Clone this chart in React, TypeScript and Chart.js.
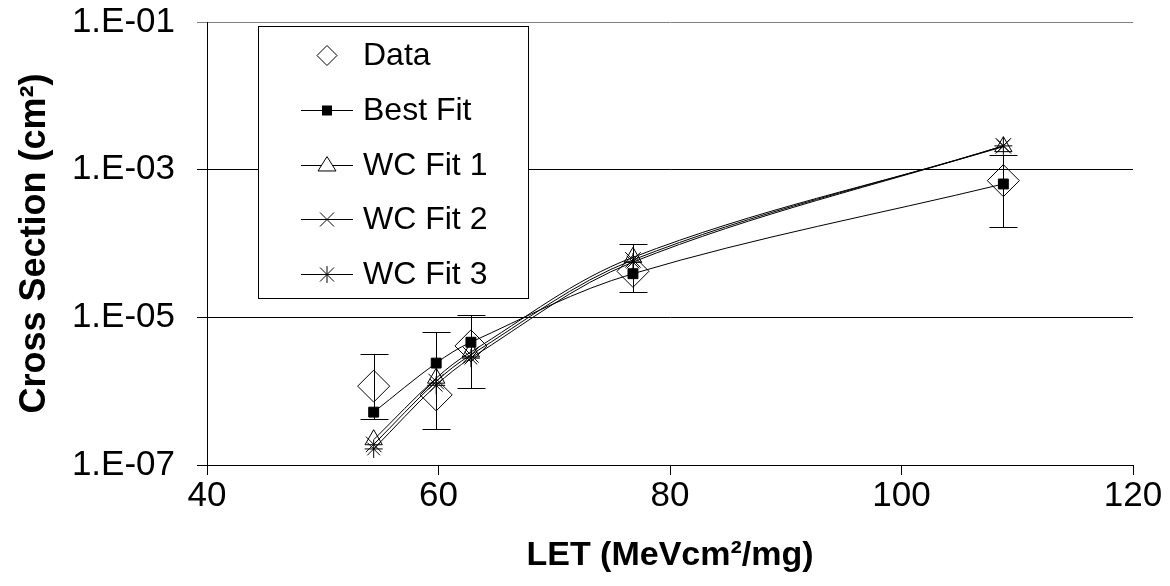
import React, { useEffect, useRef } from "react";
import { Chart, registerables } from "chart.js";

Chart.register(...registerables);

// ---- data ----
const letValues = [54.4, 59.8, 62.8, 76.8, 108.8];
const dataValues = [1.17e-6, 8.9e-7, 4.1e-6, 4.2e-5, 7.1e-4];
const dataErrLow = [4.2e-7, 3.1e-7, 1.1e-6, 2.2e-5, 1.66e-4];
const dataErrHigh = [3.2e-6, 6.4e-6, 1.07e-5, 1.0e-4, 1.6e-3];
const bestFit = [5.2e-7, 2.4e-6, 4.6e-6, 3.9e-5, 6.4e-4];
const wcFit1 = [2.2e-7, 1.5e-6, 3.4e-6, 6.5e-5, 2.05e-3];
const wcFit2 = [1.9e-7, 1.35e-6, 3.1e-6, 6.0e-5, 2.1e-3];
const wcFit3 = [1.65e-7, 1.2e-6, 2.8e-6, 5.6e-5, 2.1e-3];
const yTicks = [1e-7, 1e-5, 1e-3, 1e-1];
const xMin = 40;
const xMax = 120;
const xStep = 20;
const seriesNames = ["Data", "Best Fit", "WC Fit 1", "WC Fit 2", "WC Fit 3"];

const FONT = "'Liberation Sans', Arial, sans-serif";

const toPts = (ys: number[]) => letValues.map((x, i) => ({ x, y: ys[i] }));

const fmtExp = (v: number) => {
  const e = Math.round(Math.log10(v));
  return "1.E" + (e < 0 ? "-" : "+") + String(Math.abs(e)).padStart(2, "0");
};

type Shape = "diamond" | "square" | "triangle" | "x" | "star";

function drawShape(ctx: CanvasRenderingContext2D, shape: Shape, x: number, y: number, r: number) {
  ctx.beginPath();
  if (shape === "diamond") {
    ctx.moveTo(x - r, y);
    ctx.lineTo(x, y - r);
    ctx.lineTo(x + r, y);
    ctx.lineTo(x, y + r);
    ctx.closePath();
    ctx.fillStyle = "#fff";
    ctx.fill();
    ctx.stroke();
  } else if (shape === "square") {
    ctx.fillStyle = "#000";
    ctx.fillRect(x - r, y - r, 2 * r, 2 * r);
  } else if (shape === "triangle") {
    const h = r * 1.6;
    ctx.moveTo(x, y - h * 0.62);
    ctx.lineTo(x + r, y + h * 0.38);
    ctx.lineTo(x - r, y + h * 0.38);
    ctx.closePath();
    ctx.fillStyle = "#fff";
    ctx.fill();
    ctx.stroke();
  } else if (shape === "x") {
    ctx.moveTo(x - r, y - r);
    ctx.lineTo(x + r, y + r);
    ctx.moveTo(x - r, y + r);
    ctx.lineTo(x + r, y - r);
    ctx.stroke();
  } else if (shape === "star") {
    ctx.moveTo(x - r, y - r);
    ctx.lineTo(x + r, y + r);
    ctx.moveTo(x - r, y + r);
    ctx.lineTo(x + r, y - r);
    ctx.moveTo(x, y - r * 1.2);
    ctx.lineTo(x, y + r * 1.2);
    ctx.stroke();
  }
}

const legendPlugin = {
  id: "customLegend",
  afterDraw(chart: any) {
    const ctx: CanvasRenderingContext2D = chart.ctx;
    ctx.save();
    const bx = 258.5, by = 26.5, bw = 270, bh = 272;
    ctx.fillStyle = "#fff";
    ctx.fillRect(bx, by, bw, bh);
    ctx.strokeStyle = "#000";
    ctx.lineWidth = 1;
    ctx.strokeRect(bx, by, bw, bh);
    const shapes: Shape[] = ["diamond", "square", "triangle", "x", "star"];
    const sizes = [10, 5, 9, 7, 7];
    const rowY = [55, 110, 165, 219, 274];
    ctx.font = `32px ${FONT}`;
    ctx.textBaseline = "middle";
    ctx.textAlign = "left";
    seriesNames.forEach((name, i) => {
      const y = rowY[i] + 0.5;
      if (i > 0) {
        ctx.beginPath();
        ctx.moveTo(301, y);
        ctx.lineTo(353, y);
        ctx.strokeStyle = "#000";
        ctx.stroke();
      }
      ctx.strokeStyle = "#000";
      drawShape(ctx, shapes[i], 327, y, sizes[i]);
      ctx.fillStyle = "#000";
      ctx.fillText(name, 363, rowY[i] + 1);
    });
    ctx.restore();
  },
};

const errorBarPlugin = {
  id: "errorBars",
  afterDatasetsDraw(chart: any) {
    const ctx: CanvasRenderingContext2D = chart.ctx;
    const xs = chart.scales.x;
    const ys = chart.scales.y;
    ctx.save();
    ctx.strokeStyle = "#000";
    ctx.lineWidth = 1;
    letValues.forEach((lv, i) => {
      const px = Math.round(xs.getPixelForValue(lv)) + 0.5;
      const yl = Math.round(ys.getPixelForValue(dataErrLow[i])) + 0.5;
      const yh = Math.round(ys.getPixelForValue(dataErrHigh[i])) + 0.5;
      ctx.beginPath();
      ctx.moveTo(px, yl);
      ctx.lineTo(px, yh);
      ctx.moveTo(px - 14, yl);
      ctx.lineTo(px + 14, yl);
      ctx.moveTo(px - 14, yh);
      ctx.lineTo(px + 14, yh);
      ctx.stroke();
    });
    ctx.restore();
  },
};

export default function App() {
  const ref = useRef<HTMLCanvasElement>(null);
  useEffect(() => {
    if (!ref.current) return;
    const lineBase = {
      showLine: true,
      borderColor: "#000",
      borderWidth: 1,
      tension: 0.35,
      pointBorderColor: "#000",
      pointBorderWidth: 1,
      fill: false,
    };
    const chart = new Chart(ref.current, {
      type: "scatter",
      data: {
        datasets: [
          {
            ...lineBase,
            label: seriesNames[1],
            data: toPts(bestFit),
            pointStyle: "rect",
            pointRadius: 7,
            pointBackgroundColor: "#000",
          },
          {
            ...lineBase,
            label: seriesNames[2],
            data: toPts(wcFit1),
            pointStyle: "triangle",
            pointRadius: 10,
            pointBackgroundColor: "rgba(0,0,0,0)",
          },
          {
            ...lineBase,
            label: seriesNames[3],
            data: toPts(wcFit2),
            pointStyle: "crossRot",
            pointRadius: 11,
            pointBackgroundColor: "rgba(0,0,0,0)",
          },
          {
            ...lineBase,
            label: seriesNames[4],
            data: toPts(wcFit3),
            pointStyle: "star",
            pointRadius: 9,
            pointBackgroundColor: "rgba(0,0,0,0)",
          },
          {
            label: seriesNames[0],
            data: toPts(dataValues),
            showLine: false,
            pointStyle: "rectRot",
            pointRadius: 16,
            pointBorderColor: "#000",
            pointBorderWidth: 1,
            pointBackgroundColor: "rgba(0,0,0,0)",
          },
        ],
      },
      options: {
        animation: false,
        responsive: false,
        events: [],
        layout: { padding: { left: 0, top: 22, right: 37, bottom: 0 } },
        plugins: {
          legend: { display: false },
          tooltip: { enabled: false },
          title: { display: false },
        },
        scales: {
          x: {
            type: "linear",
            min: xMin,
            max: xMax,
            ticks: {
              stepSize: xStep,
              color: "#000",
              font: { family: FONT, size: 35 },
              padding: 0,
            },
            grid: {
              drawOnChartArea: false,
              drawTicks: true,
              tickLength: 10,
              color: "#000",
            },
            border: { color: "#000", width: 1 },
            title: {
              display: true,
              text: "LET (MeVcm²/mg)",
              color: "#000",
              font: { family: FONT, size: 34, weight: "bold" },
              padding: { top: 0, bottom: 10 },
            },
            afterFit: (s: any) => {
              s.height = 121;
            },
          },
          y: {
            type: "logarithmic",
            min: 1e-7,
            max: 1e-1,
            afterBuildTicks: (s: any) => {
              s.ticks = yTicks.map((v) => ({ value: v }));
            },
            ticks: {
              color: "#000",
              font: { family: FONT, size: 35 },
              padding: 22,
              autoSkip: false,
              callback: (v: any) => fmtExp(Number(v)),
            },
            grid: {
              drawTicks: true,
              tickLength: 10,
              color: (c: any) =>
                c.tick && Math.abs(c.tick.value - 1e-1) < 1e-9 ? "#808080" : "#000",
            },
            border: { color: "#000", width: 1 },
            title: {
              display: true,
              text: "Cross Section (cm²)",
              color: "#000",
              font: { family: FONT, size: 36, weight: "bold" },
              padding: { top: 13, bottom: 0 },
            },
            afterFit: (s: any) => {
              s.width = 207;
              s.paddingTop = 0;
              s.paddingBottom = 0;
            },
          },
        },
      },
      plugins: [errorBarPlugin, legendPlugin],
    } as any);
    return () => chart.destroy();
  }, []);
  return (
    <div style={{ position: "fixed", left: 0, top: 0, width: 1170, height: 586, background: "#fff" }}>
      <canvas ref={ref} width={1170} height={586} />
    </div>
  );
}
